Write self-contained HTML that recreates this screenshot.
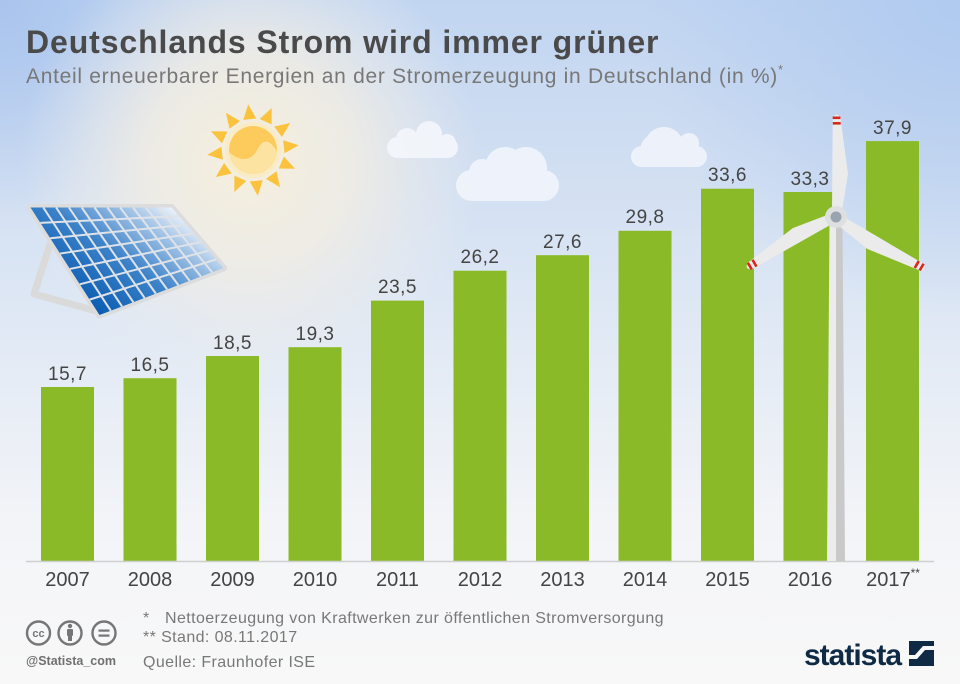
<!DOCTYPE html>
<html>
<head>
<meta charset="utf-8">
<style>
  html,body{margin:0;padding:0;background:#f8f8f8;}
  svg{display:block;}
  text{font-family:"Liberation Sans","DejaVu Sans",sans-serif;}
</style>
</head>
<body>
<svg width="960" height="684" viewBox="0 0 960 684" xmlns="http://www.w3.org/2000/svg">
  <defs>
    <linearGradient id="bgv" x1="0" y1="0" x2="0" y2="1">
      <stop offset="0" stop-color="#c1d5f1"/>
      <stop offset="0.18" stop-color="#cddcf1"/>
      <stop offset="0.42" stop-color="#dce6f4"/>
      <stop offset="0.62" stop-color="#eaeff6"/>
      <stop offset="0.8" stop-color="#f4f5f8"/>
      <stop offset="1" stop-color="#f8f8f8"/>
    </linearGradient>
    <radialGradient id="warm" cx="250" cy="160" r="230" gradientUnits="userSpaceOnUse">
      <stop offset="0" stop-color="#f6efdc" stop-opacity="1"/>
      <stop offset="0.45" stop-color="#f1ede3" stop-opacity="0.85"/>
      <stop offset="1" stop-color="#eeeeee" stop-opacity="0"/>
    </radialGradient>
    <radialGradient id="cornerTL" cx="0" cy="0" r="220" gradientUnits="userSpaceOnUse">
      <stop offset="0" stop-color="#a9c4ee" stop-opacity="1"/>
      <stop offset="1" stop-color="#a9c4ee" stop-opacity="0"/>
    </radialGradient>
    <radialGradient id="cornerTR" cx="960" cy="0" r="320" gradientUnits="userSpaceOnUse">
      <stop offset="0" stop-color="#b0caf0" stop-opacity="1"/>
      <stop offset="1" stop-color="#b0caf0" stop-opacity="0"/>
    </radialGradient>
    <linearGradient id="panel" gradientUnits="userSpaceOnUse" x1="95" y1="312" x2="172" y2="205">
      <stop offset="0" stop-color="#0a5cb1"/>
      <stop offset="0.45" stop-color="#3c82c9"/>
      <stop offset="0.8" stop-color="#a9c8e8"/>
      <stop offset="1" stop-color="#f2f6fb"/>
    </linearGradient>
    <clipPath id="sunclip"><circle cx="253" cy="150" r="24"/></clipPath>
  </defs>

  <!-- background -->
  <rect x="0" y="0" width="960" height="684" fill="url(#bgv)"/>
  <rect x="0" y="0" width="960" height="684" fill="url(#cornerTR)"/>
  <rect x="0" y="0" width="960" height="684" fill="url(#cornerTL)"/>
  <rect x="0" y="0" width="960" height="684" fill="url(#warm)"/>

  <!-- title -->
  <text x="26" y="53" font-size="32" font-weight="bold" fill="#4a4a4a" letter-spacing="0.9">Deutschlands Strom wird immer grüner</text>
  <text x="26" y="83" font-size="21" fill="#787878" letter-spacing="0.7">Anteil erneuerbarer Energien an der Stromerzeugung in Deutschland (in %)<tspan font-size="13" dy="-9">*</tspan></text>

  <!-- sun -->
  <g fill="#fbc23e">
    <g transform="translate(253,150)">
      <polygon points="-6.5,-31 6.5,-31 0,-46" transform="rotate(-6)"/>
      <polygon points="-6.5,-31 6.5,-31 0,-46" transform="rotate(24)"/>
      <polygon points="-6.5,-31 6.5,-31 0,-46" transform="rotate(54)"/>
      <polygon points="-6.5,-31 6.5,-31 0,-46" transform="rotate(84)"/>
      <polygon points="-6.5,-31 6.5,-31 0,-46" transform="rotate(114)"/>
      <polygon points="-6.5,-31 6.5,-31 0,-46" transform="rotate(144)"/>
      <polygon points="-6.5,-31 6.5,-31 0,-46" transform="rotate(174)"/>
      <polygon points="-6.5,-31 6.5,-31 0,-46" transform="rotate(204)"/>
      <polygon points="-6.5,-31 6.5,-31 0,-46" transform="rotate(234)"/>
      <polygon points="-6.5,-31 6.5,-31 0,-46" transform="rotate(264)"/>
      <polygon points="-6.5,-31 6.5,-31 0,-46" transform="rotate(294)"/>
      <polygon points="-6.5,-31 6.5,-31 0,-46" transform="rotate(324)"/>
    </g>
  </g>
  <circle cx="253" cy="150" r="28" fill="#f9ebc4"/>
  <circle cx="253" cy="150" r="24" fill="#fdcb5b"/>
  <path clip-path="url(#sunclip)" fill="#fde3a2" d="M 228,151 C 237,160 249,163 256,152 C 260,144 264,139 270,143 C 274,146 276,150 279,155 L 279,178 L 228,178 Z"/>

  <!-- clouds -->
  <g fill="#f3f6fb" opacity="0.95">
    <rect x="387" y="137" width="71" height="21" rx="10.5"/>
    <circle cx="407" cy="139" r="11"/>
    <circle cx="429" cy="134" r="13"/>
    <circle cx="447" cy="143" r="9"/>
  </g>
  <g fill="#f0f4fb" opacity="0.95">
    <rect x="456" y="170" width="103" height="31" rx="15.5"/>
    <circle cx="482" cy="172" r="13"/>
    <circle cx="505" cy="167" r="20"/>
    <circle cx="526" cy="168" r="21"/>
  </g>
  <g fill="#eef3fb" opacity="0.95">
    <rect x="631" y="146" width="76" height="21" rx="10.5"/>
    <circle cx="652" cy="147" r="11"/>
    <circle cx="664" cy="147" r="20"/>
    <circle cx="689" cy="143" r="10"/>
  </g>

  <!-- solar panel -->
  <polyline points="52,238 34,294 104,313" fill="none" stroke="#dadada" stroke-width="7" stroke-linejoin="round"/>
  <polygon points="30.5,207.5 171.5,207.5 223.5,268 99.5,315" fill="#dcdcdc" stroke="#dcdcdc" stroke-width="7" stroke-linejoin="round"/>
  <polygon points="30.5,207.5 171.5,207.5 223.5,268 99.5,315" fill="url(#panel)"/>
  <g stroke="#dfe3e8" stroke-width="2">
    <line x1="40.36" y1="222.86" x2="178.93" y2="216.14"/>
    <line x1="50.21" y1="238.21" x2="186.36" y2="224.79"/>
    <line x1="60.07" y1="253.57" x2="193.79" y2="233.43"/>
    <line x1="69.93" y1="268.93" x2="201.21" y2="242.07"/>
    <line x1="79.79" y1="284.29" x2="208.64" y2="250.71"/>
    <line x1="89.64" y1="299.64" x2="216.07" y2="259.36"/>
    <line x1="43.32" y1="207.5" x2="110.77" y2="310.73"/>
    <line x1="56.14" y1="207.5" x2="122.05" y2="306.45"/>
    <line x1="68.95" y1="207.5" x2="133.32" y2="302.18"/>
    <line x1="81.77" y1="207.5" x2="144.59" y2="297.91"/>
    <line x1="94.59" y1="207.5" x2="155.86" y2="293.64"/>
    <line x1="107.41" y1="207.5" x2="167.14" y2="289.36"/>
    <line x1="120.23" y1="207.5" x2="178.41" y2="285.09"/>
    <line x1="133.05" y1="207.5" x2="189.68" y2="280.82"/>
    <line x1="145.86" y1="207.5" x2="200.95" y2="276.55"/>
    <line x1="158.68" y1="207.5" x2="212.23" y2="272.27"/>
  </g>

  <!-- bars -->
  <g fill="#8aba27">
    <rect x="41" y="387" width="53" height="174"/>
    <rect x="123.5" y="378.2" width="53" height="182.8"/>
    <rect x="206" y="356" width="53" height="205"/>
    <rect x="288.5" y="347.2" width="53" height="213.8"/>
    <rect x="371" y="300.6" width="53" height="260.4"/>
    <rect x="453.5" y="270.7" width="53" height="290.3"/>
    <rect x="536" y="255.2" width="53" height="305.8"/>
    <rect x="618.5" y="230.8" width="53" height="330.2"/>
    <rect x="701" y="188.7" width="53" height="372.3"/>
    <rect x="783.5" y="192" width="53" height="369"/>
    <rect x="866" y="141.1" width="53" height="419.9"/>
  </g>

  <!-- value labels -->
  <g font-size="19" fill="#444" text-anchor="middle" letter-spacing="0.5">
    <text x="67.5" y="380">15,7</text>
    <text x="150" y="371">16,5</text>
    <text x="232.5" y="349">18,5</text>
    <text x="315" y="340">19,3</text>
    <text x="397.5" y="293">23,5</text>
    <text x="480" y="263">26,2</text>
    <text x="562.5" y="248">27,6</text>
    <text x="645" y="223">29,8</text>
    <text x="727.5" y="181">33,6</text>
    <text x="810" y="185">33,3</text>
    <text x="892.5" y="134">37,9</text>
  </g>

  <!-- axis -->
  <line x1="26" y1="561.5" x2="934" y2="561.5" stroke="#cfcfcf" stroke-width="1.6"/>

  <!-- wind turbine -->
  <polygon points="829.5,222 836,222 836,561 827,561" fill="#ececec"/>
  <polygon points="836,222 842.5,222 845,561 836,561" fill="#c9c9c9"/>
  <g transform="translate(836,217)">
    <g id="blade">
      <path d="M -4,-6 L -3.3,-99 Q 0.5,-106 4.5,-99 L 12,-43 L 6,-6 Z" fill="#ebebeb"/>
      <rect x="-3.3" y="-100.5" width="7.7" height="2.6" fill="#d8271d"/>
      <rect x="-3.2" y="-95" width="7.9" height="2.6" fill="#d8271d"/>
    </g>
    <g transform="rotate(120)">
      <path d="M -4,-6 L -3.3,-99 Q 0.5,-106 4.5,-99 L 12,-43 L 6,-6 Z" fill="#ebebeb"/>
      <rect x="-3.3" y="-100.5" width="7.7" height="2.6" fill="#d8271d"/>
      <rect x="-3.2" y="-95" width="7.9" height="2.6" fill="#d8271d"/>
    </g>
    <g transform="rotate(240)">
      <path d="M -4,-6 L -3.3,-99 Q 0.5,-106 4.5,-99 L 12,-43 L 6,-6 Z" fill="#ebebeb"/>
      <rect x="-3.3" y="-100.5" width="7.7" height="2.6" fill="#d8271d"/>
      <rect x="-3.2" y="-95" width="7.9" height="2.6" fill="#d8271d"/>
    </g>
    <circle cx="0" cy="0" r="11" fill="#dedfe1"/>
    <circle cx="0" cy="0" r="5.5" fill="#9aa4ae"/>
  </g>

  <!-- year labels -->
  <g font-size="20" fill="#444" text-anchor="middle">
    <text x="67.5" y="586">2007</text>
    <text x="150" y="586">2008</text>
    <text x="232.5" y="586">2009</text>
    <text x="315" y="586">2010</text>
    <text x="397.5" y="586">2011</text>
    <text x="480" y="586">2012</text>
    <text x="562.5" y="586">2013</text>
    <text x="645" y="586">2014</text>
    <text x="727.5" y="586">2015</text>
    <text x="810" y="586">2016</text>
    <text x="893" y="586">2017<tspan font-size="12" dy="-9">**</tspan></text>
  </g>

  <!-- footer: cc icons -->
  <g fill="none" stroke="#767676" stroke-width="2.4">
    <circle cx="38.5" cy="633" r="11.5"/>
    <circle cx="70" cy="633" r="11.5"/>
    <circle cx="104" cy="633" r="11.5"/>
  </g>
  <text x="38.5" y="637" font-size="11" font-weight="bold" fill="#767676" text-anchor="middle">cc</text>
  <circle cx="70" cy="626" r="2.2" fill="#767676"/>
  <rect x="67" y="629" width="6" height="7" rx="1" fill="#767676"/>
  <rect x="68" y="635" width="4" height="6" fill="#767676"/>
  <rect x="98.5" y="629.5" width="11" height="2.2" fill="#767676"/>
  <rect x="98.5" y="634.5" width="11" height="2.2" fill="#767676"/>
  <text x="26" y="665" font-size="12.5" font-weight="bold" fill="#707070">@Statista_com</text>

  <!-- footnotes -->
  <g font-size="16" fill="#787878" letter-spacing="0.4">
    <text x="143" y="623">*</text>
    <text x="165" y="623">Nettoerzeugung von Kraftwerken zur öffentlichen Stromversorgung</text>
    <text x="143" y="642">** Stand: 08.11.2017</text>
    <text x="143" y="667">Quelle: Fraunhofer ISE</text>
  </g>

  <!-- statista logo -->
  <text x="804" y="665" font-size="30" font-weight="bold" fill="#0e2a45" letter-spacing="-1">statista</text>
  <rect x="909" y="641" width="25" height="25" fill="#0e2a45"/>
  <path d="M 909,659 L 917,659 L 925,650 L 934,650 L 934,646 L 923,646 L 915,655 L 909,655 Z" fill="#f8f8f8"/>
</svg>
</body>
</html>
